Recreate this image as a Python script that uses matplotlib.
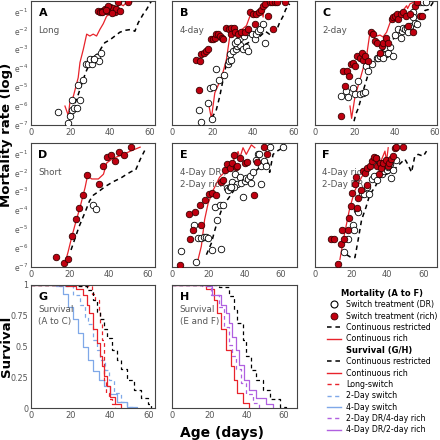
import numpy as np
import matplotlib
matplotlib.use("Agg")
import matplotlib.pyplot as plt
from matplotlib.lines import Line2D

# ---- mortality panels: age (days) and ln(mortality rate) ----
A_DR_AGE = [13.8, 18.9, 19.7, 20.9, 21.8, 23.1, 20.9, 24.8, 24.0, 26.5, 27.9, 29.0, 31.0, 29.8, 32.0, 33.2, 34.4, 35.4, 32.0]
A_DR_LOG = [-6.3, -6.9, -6.5, -6.2, -6.1, -6.1, -5.7, -5.7, -4.9, -4.6, -3.8, -3.8, -3.8, -3.5, -3.5, -3.4, -3.6, -3.2, -3.5]
A_RICH_AGE = [34.1, 34.9, 35.8, 36.6, 37.4, 38.3, 39.1, 40.0, 40.8, 41.7, 42.5, 43.3, 44.2, 45.0, 49.2, 39.1, 36.0, 38.0, 41.0]
A_RICH_LOG = [-1.0, -1.05, -0.96, -1.0, -0.88, -1.0, -0.88, -0.79, -0.96, -0.84, -1.05, -0.88, -0.52, -0.96, -0.52, -0.7, -1.05, -0.95, -1.1]
A_CR_AGE = [20.6, 21.8, 23.9, 26.1, 27.8, 29.5, 31.5, 34.1, 35.8, 37.4, 40.0, 42.5, 45.0, 47.6, 50.9, 52.6, 54.3, 56.8, 58.5, 61.0]
A_CR_LOG = [-6.25, -6.0, -5.4, -4.7, -4.2, -3.8, -3.45, -3.2, -2.9, -2.65, -2.5, -2.3, -2.1, -2.0, -1.95, -2.05, -1.6, -1.15, -0.9, -0.45]
A_CRICH_AGE = [17.2, 18.9, 19.7, 21.4, 23.9, 24.8, 26.5, 28.2, 29.8, 31.5, 33.2, 34.9, 36.6, 38.3, 40.0, 42.5, 45.0, 46.7, 48.4, 51.0]
A_CRICH_LOG = [-6.0, -6.5, -5.8, -5.5, -4.5, -3.7, -3.0, -2.2, -2.3, -2.2, -2.3, -1.95, -1.65, -1.25, -1.15, -0.95, -0.6, -0.7, -0.52, -0.52]

B_DR_AGE = [13.2, 14.2, 17.8, 19.9, 18.6, 20.2, 21.9, 23.2, 25.8, 27.6, 28.1, 29.3, 28.5, 30.1, 31.4, 32.1, 33.4, 35.0, 36.4, 37.5,
            30.9, 33.4, 35.4, 37.0, 39.2, 40.8, 41.6, 42.5, 43.3, 44.6, 45.8, 31.8]
B_DR_LOG = [-6.2, -6.85, -5.85, -6.7, -5.05, -5.0, -4.05, -4.6, -4.35, -3.8, -3.6, -3.55, -3.25, -3.1, -3.0, -2.85, -2.75, -3.0, -2.9, -3.1,
            -2.65, -2.4, -2.3, -2.1, -2.2, -2.45, -2.2, -2.05, -1.95, -1.65, -2.65, -2.55]
B_RICH_AGE = [12.0, 13.7, 13.2, 14.5, 15.6, 17.0, 17.8, 19.1, 20.2, 21.1, 21.9, 22.7, 23.5, 24.4, 25.2, 26.8, 28.1, 29.3, 30.6, 29.3,
              30.9, 32.6, 34.2, 35.8, 37.6, 38.4, 40.0, 40.8, 41.6, 42.9, 44.1, 44.9, 45.8, 47.4, 48.2, 49.5, 49.9, 50.7, 51.5, 55.6]
B_RICH_LOG = [-3.55, -3.6, -5.15, -3.25, -3.2, -3.1, -3.0, -2.45, -2.45, -2.4, -2.2, -2.2, -2.3, -2.4, -2.45, -1.85, -1.95, -1.85, -1.85, -2.2,
              -2.1, -2.2, -2.1, -2.1, -1.95, -1.05, -1.15, -1.65, -1.15, -1.05, -0.95, -0.7, -0.6, -1.25, -0.52, -0.52, -1.95, -0.52, -0.52, -0.52]
B_CR_AGE = [19.5, 21.6, 23.5, 25.0, 26.9, 29.0, 31.0, 33.4, 36.0, 38.5, 40.9, 43.5, 46.0, 48.0, 50.0, 51.5, 53.0, 55.0, 56.0, 58.0]
B_CR_LOG = [-6.6, -6.3, -5.5, -4.7, -3.7, -3.4, -3.1, -2.85, -2.75, -2.6, -2.5, -2.3, -2.05, -2.2, -1.95, -2.0, -1.6, -1.2, -0.9, -0.6]
B_CRICH_AGE = [17.8, 19.4, 21.1, 24.4, 26.8, 28.5, 30.0, 31.8, 34.0, 36.7, 38.4, 40.8, 44.1, 44.9, 45.5, 47.0, 50.0]
B_CRICH_LOG = [-5.75, -6.65, -5.3, -4.5, -3.55, -2.3, -2.25, -2.2, -2.0, -1.75, -1.25, -1.05, -0.9, -1.3, -0.75, -0.6, -0.45]

C_DR_AGE = [13.0, 15.5, 16.7, 18.8, 20.0, 21.3, 22.5, 23.8, 25.0, 25.5, 26.7, 28.3, 30.8, 31.7, 32.5, 34.2, 35.5, 36.7, 34.2, 39.2,
            37.5, 40.0, 41.7, 43.3, 44.2, 45.0, 45.8, 46.7, 47.5, 43.0, 49.2, 50.0, 50.8, 52.5, 54.2, 55.3, 49.2]
C_DR_LOG = [-5.45, -5.2, -5.5, -5.05, -5.35, -4.65, -5.35, -5.3, -5.25, -3.9, -4.15, -3.8, -3.45, -3.45, -3.35, -3.25, -3.25, -3.2, -3.45, -3.35,
            -2.9, -2.25, -1.95, -2.05, -1.85, -1.95, -1.85, -2.1, -1.75, -2.4, -1.05, -1.6, -1.65, -0.52, -0.52, -0.52, -1.3]
C_RICH_AGE = [13.0, 13.8, 15.0, 15.8, 17.0, 18.0, 18.8, 20.0, 21.2, 22.5, 23.3, 24.2, 25.0, 26.7, 28.0, 29.2, 30.0, 30.8, 32.5, 33.3,
              34.2, 35.5, 36.7, 38.3, 39.2, 40.0, 40.8, 41.7, 42.8, 44.2, 45.5, 46.7, 47.5, 49.2, 50.0, 50.8, 52.5, 53.3]
C_RICH_LOG = [-6.55, -4.15, -4.95, -4.15, -4.4, -3.8, -3.7, -3.9, -3.35, -3.45, -3.2, -3.55, -3.35, -3.6, -2.1, -2.2, -2.55, -2.65, -3.2, -2.85,
              -2.65, -2.4, -2.65, -1.4, -1.3, -1.25, -1.15, -1.4, -1.15, -1.05, -1.25, -1.75, -1.15, -2.1, -0.7, -0.52, -1.25, -1.25]
C_CR_AGE = [19.5, 20.5, 21.7, 23.8, 25.5, 27.5, 30.0, 32.5, 35.8, 39.2, 42.5, 45.8, 47.5, 50.0, 52.5, 55.0, 56.7, 59.2]
C_CR_LOG = [-6.8, -6.4, -6.1, -5.3, -4.7, -4.0, -3.55, -3.2, -2.85, -2.45, -2.1, -1.95, -2.2, -1.75, -1.4, -0.95, -0.9, -0.5]
C_CRICH_AGE = [17.5, 18.3, 20.0, 22.5, 25.8, 27.5, 28.5, 30.0, 31.0, 32.5, 34.0, 35.8, 37.5, 40.0, 43.3, 45.8, 46.3, 47.5, 50.8]
C_CRICH_LOG = [-6.0, -6.65, -5.5, -4.6, -3.35, -2.1, -2.2, -2.1, -2.3, -2.25, -2.35, -2.1, -1.6, -1.25, -1.05, -0.7, -0.85, -0.6, -0.45]

D_DR_AGE = [31.5, 33.2]
D_DR_LOG = [-3.7, -3.95]
D_RICH_AGE = [12.8, 16.9, 18.8, 20.9, 23.1, 24.8, 26.8, 28.9, 35.0, 37.1, 39.1, 41.2, 43.1, 45.1, 47.4, 51.3]
D_RICH_LOG = [-6.45, -6.8, -6.6, -5.35, -4.45, -3.9, -3.2, -2.15, -2.6, -1.65, -1.2, -1.1, -1.4, -0.95, -1.1, -0.67]
D_CR_AGE = [20.5, 22.5, 24.5, 26.5, 28.1, 30.0, 32.0, 34.8, 38.0, 42.0, 46.0, 49.0, 51.5, 53.5, 56.0, 58.2]
D_CR_LOG = [-6.1, -5.5, -4.9, -4.4, -4.0, -3.5, -3.2, -3.0, -2.75, -2.5, -2.3, -2.1, -1.95, -1.9, -1.3, -0.85]
D_CRICH_AGE = [17.4, 19.0, 20.9, 23.0, 25.1, 27.7, 28.9, 31.1, 34.5, 37.1, 38.8, 42.2, 47.4, 51.5, 55.9]
D_CRICH_LOG = [-6.8, -6.2, -5.4, -4.6, -3.85, -2.8, -2.2, -2.35, -2.35, -2.1, -1.5, -1.25, -1.05, -0.85, -0.67]

E_DR_AGE = [5.2, 13.1, 12.0, 14.4, 16.2, 17.5, 19.0, 19.9, 22.1, 26.9, 25.0, 23.6, 26.3, 28.2, 30.4, 31.0, 31.9, 33.3, 34.6, 35.9,
            37.4, 38.3, 39.2, 40.1, 40.7, 42.0, 42.9, 43.8, 44.8, 46.6, 47.5, 49.4, 49.0, 50.6, 51.7, 48.1, 54.0, 61.3, 34.3, 32.8]
E_DR_LOG = [-6.15, -6.75, -4.8, -5.45, -5.45, -5.4, -5.4, -5.45, -6.1, -6.05, -4.5, -3.85, -3.75, -3.75, -2.85, -2.95, -2.75, -2.5, -2.1, -2.6,
            -2.25, -2.55, -3.3, -2.45, -2.3, -2.35, -2.2, -2.55, -2.0, -1.35, -1.05, -2.6, -1.65, -1.4, -1.65, -1.05, -0.67, -0.67, -2.75, -2.8]
E_RICH_AGE = [4.2, 9.4, 10.2, 11.6, 12.5, 15.3, 16.2, 18.0, 20.6, 22.3, 24.5, 26.9, 28.2, 29.1, 30.4, 31.9, 33.3, 34.3, 35.2, 35.9,
              37.4, 40.3, 41.6, 45.1, 47.0, 50.8, 52.7]
E_RICH_LOG = [-6.9, -4.2, -5.5, -5.05, -4.1, -3.7, -4.8, -3.45, -3.15, -3.1, -3.2, -2.5, -2.4, -1.9, -1.55, -1.75, -1.5, -1.1, -1.7, -1.65,
              -1.25, -1.5, -1.45, -3.2, -1.45, -0.67, -1.05]
E_CR_AGE = [19.0, 21.7, 23.5, 25.4, 27.3, 29.1, 32.8, 36.5, 42.0, 48.4, 51.0, 53.0, 53.9, 55.8, 58.5, 61.3]
E_CR_LOG = [-6.35, -5.75, -5.1, -4.5, -4.0, -3.65, -3.15, -2.6, -2.25, -1.75, -1.6, -1.4, -2.0, -1.05, -0.85, -0.7]
E_CRICH_AGE = [14.4, 16.2, 18.0, 19.9, 22.7, 26.3, 30.0, 33.7, 36.5, 37.4, 39.2, 41.0, 43.8, 45.7]
E_CRICH_LOG = [-6.6, -5.9, -4.5, -3.65, -2.95, -2.25, -1.9, -1.4, -0.9, -1.25, -0.7, -1.05, -0.55, -0.7]

F_DR_AGE = [16.0, 18.4, 20.8, 21.5, 23.4, 23.8, 25.8, 27.3, 28.9, 30.0, 31.3, 32.6, 34.1, 35.5, 36.8, 38.1, 39.6, 40.5, 41.8, 41.4,
            42.9, 44.8, 33.7]
F_DR_LOG = [-6.2, -5.5, -4.8, -5.05, -4.0, -4.1, -3.15, -3.15, -2.8, -3.15, -2.35, -2.2, -2.4, -1.5, -2.1, -1.95, -1.85, -1.7, -2.3, -1.55,
            -1.9, -1.35, -1.25]
F_RICH_AGE = [8.7, 10.5, 12.9, 14.2, 14.7, 16.2, 18.0, 18.8, 19.7, 20.6, 21.9, 22.5, 23.0, 23.8, 25.6, 26.7, 27.6, 28.9, 28.9, 30.4,
              31.3, 32.6, 33.5, 34.4, 35.5, 35.9, 36.6, 37.8, 39.2, 40.5, 41.1, 42.0, 43.3, 44.2, 44.8, 48.8]
F_RICH_LOG = [-5.5, -5.5, -6.85, -5.8, -5.05, -5.5, -5.05, -4.4, -3.8, -3.1, -2.6, -2.25, -3.9, -3.35, -2.95, -1.95, -2.05, -2.65, -1.75, -1.65,
              -1.4, -1.2, -1.25, -1.65, -2.1, -1.5, -1.75, -1.5, -1.35, -1.65, -1.5, -1.3, -1.15, -0.7, -0.67, -0.67]
F_CR_AGE = [17.5, 20.0, 22.1, 23.9, 25.8, 28.2, 30.4, 33.1, 35.9, 39.6, 43.3, 47.0, 49.7, 51.5, 53.4, 55.2, 57.1, 59.9, 61.7]
F_CR_LOG = [-6.35, -6.5, -6.5, -5.55, -4.5, -3.85, -3.15, -2.8, -2.25, -2.1, -1.9, -1.55, -1.3, -1.6, -2.0, -1.15, -1.05, -1.15, -0.88]
F_CRICH_AGE = [13.8, 15.7, 17.5, 19.3, 22.1, 25.8, 29.5, 33.1, 35.9, 38.7, 39.6, 40.5]
F_CRICH_LOG = [-6.6, -5.55, -4.7, -3.85, -2.95, -2.25, -1.75, -1.3, -1.55, -0.88, -1.4, -0.7]

# ---- survival panels: age (days) and proportion alive ----
G_CR_AGE = [0, 23.0, 28.3, 31.7, 33.4, 35.2, 36.9, 38.6, 41.2, 43.7, 45.5, 48.9, 52.3, 55.7, 59.2, 61.0]
G_CR_SURV = [1.0, 0.99, 0.96, 0.88, 0.78, 0.72, 0.64, 0.57, 0.47, 0.39, 0.32, 0.23, 0.15, 0.08, 0.03, 0.0]
G_RICH_AGE = [0, 18.0, 23.0, 26.6, 28.3, 29.7, 31.7, 33.4, 35.2, 36.0, 37.2, 38.6, 40.3, 42.9, 45.5]
G_RICH_SURV = [1.0, 0.99, 0.97, 0.92, 0.84, 0.77, 0.64, 0.53, 0.42, 0.34, 0.26, 0.18, 0.09, 0.03, 0.0]
G_LONG_AGE = [0, 24.9, 30.9, 32.6, 34.3, 35.2, 36.0, 36.9, 37.2, 38.3, 39.5, 41.2, 42.9]
G_LONG_SURV = [1.0, 0.99, 0.93, 0.88, 0.8, 0.69, 0.55, 0.36, 0.23, 0.12, 0.07, 0.03, 0.0]
G_2DAY_AGE = [0, 14.6, 21.4, 24.9, 27.4, 29.2, 31.7, 33.4, 35.2, 37.7, 39.5, 42.0, 45.5, 48.9, 52.3]
G_2DAY_SURV = [1.0, 0.99, 0.92, 0.84, 0.74, 0.68, 0.55, 0.47, 0.39, 0.31, 0.23, 0.12, 0.05, 0.01, 0.0]
G_4DAY_AGE = [0, 12.9, 16.3, 18.9, 21.4, 24.0, 26.6, 29.2, 31.7, 34.3, 36.9, 40.3, 43.7, 48.9, 54.0]
G_4DAY_SURV = [1.0, 0.99, 0.93, 0.82, 0.72, 0.61, 0.5, 0.39, 0.3, 0.23, 0.18, 0.11, 0.05, 0.01, 0.0]

H_CR_AGE = [0, 18.0, 25.2, 30.6, 33.3, 35.1, 37.8, 39.6, 42.3, 45.0, 48.6, 52.3, 57.7, 61.3]
H_CR_SURV = [1.0, 1.0, 0.98, 0.91, 0.8, 0.69, 0.55, 0.42, 0.31, 0.23, 0.15, 0.07, 0.01, 0.0]
H_RICH_AGE = [0, 9.0, 18.0, 22.5, 24.3, 26.1, 28.8, 31.5, 33.3, 35.1, 37.8, 41.4]
H_RICH_SURV = [1.0, 1.0, 0.97, 0.88, 0.77, 0.64, 0.47, 0.34, 0.23, 0.12, 0.04, 0.0]
H_2DR4R_AGE = [0, 16.0, 20.7, 25.2, 27.9, 30.6, 32.4, 34.2, 36.9, 39.6, 43.2, 46.8]
H_2DR4R_SURV = [1.0, 0.99, 0.92, 0.82, 0.66, 0.51, 0.42, 0.32, 0.2, 0.11, 0.04, 0.0]
H_4DR2R_AGE = [0, 18.0, 21.6, 26.1, 28.8, 30.6, 32.4, 34.2, 36.0, 38.7, 41.4, 45.0, 50.5, 54.0]
H_4DR2R_SURV = [1.0, 0.99, 0.92, 0.84, 0.77, 0.69, 0.58, 0.47, 0.35, 0.23, 0.15, 0.08, 0.03, 0.0]

RED = "#e8232b"
DOT_RED = "#c00010"
BLUE = "#7fa8e8"
PURPLE = "#b060e0"
GREY = "#555555"
DASH = (0, (3, 2.5))

W = H = 440.0


def px_axes(fig, x0, y0, x1, y1):
    return fig.add_axes([x0 / W, 1 - y1 / H, (x1 - x0) / W, (y1 - y0) / H])


def style(ax, xmax):
    ax.set_xlim(0, xmax)
    ax.set_xticks([0, 20, 40, 60])
    ax.tick_params(length=0, pad=2, labelsize=6, colors=GREY)
    for s in ax.spines.values():
        s.set_color("#444444")
        s.set_linewidth(0.8)


def mortality(ax, xmax, letter, sub, dr, rich, cr, crich, ylabels):
    ax.set_yscale("log", base=np.e)
    ax.plot(cr[0], np.exp(cr[1]), color="black", lw=1.1, ls=DASH, zorder=2)
    ax.plot(crich[0], np.exp(crich[1]), color=RED, lw=0.9, zorder=2)
    ax.scatter(dr[0], np.exp(dr[1]), s=22, facecolor="white", edgecolor="black", lw=0.6, zorder=3)
    ax.scatter(rich[0], np.exp(rich[1]), s=22, facecolor=DOT_RED, edgecolor="#3a0000", lw=0.6, zorder=4)
    ax.set_ylim(np.exp(-7), np.exp(-0.45))
    style(ax, xmax)
    ax.set_yticks(np.exp(np.arange(-7, 0)))
    ax.minorticks_off()
    if ylabels:
        ax.set_yticklabels([r"e$^{%d}$" % k for k in range(-7, 0)], fontsize=5.5)
    else:
        ax.set_yticklabels([])
    ax.text(0.06, 0.9, letter, transform=ax.transAxes, fontsize=8, fontweight="bold", va="center")
    ax.text(0.06, 0.8, sub, transform=ax.transAxes, fontsize=6.3, color=GREY, va="top", linespacing=1.5)


def survival(ax, xmax, letter, sub, curves, ylabels):
    for age, surv, color, ls in curves:
        ax.plot(age, surv, color=color, lw=0.9, ls=ls, drawstyle="steps-post")
    ax.set_ylim(0, 1)
    style(ax, xmax)
    ax.set_yticks([0, 0.25, 0.5, 0.75, 1])
    if ylabels:
        ax.set_yticklabels(["0", "0.25", "0.5", "0.75", "1"], fontsize=5.8)
    else:
        ax.set_yticklabels([])
    ax.text(0.06, 0.9, letter, transform=ax.transAxes, fontsize=8, fontweight="bold", va="center")
    ax.text(0.06, 0.84, sub, transform=ax.transAxes, fontsize=6.3, color=GREY, va="top", linespacing=1.5)


def main():
    fig = plt.figure(figsize=(4.4, 4.4), dpi=100)
    cols = [(31, 155), (172, 297), (315, 437)]
    rows = [(1, 125), (143, 267), (285, 408)]

    panels = [
        ("A", "Long", A_DR_AGE, A_DR_LOG, A_RICH_AGE, A_RICH_LOG, A_CR_AGE, A_CR_LOG, A_CRICH_AGE, A_CRICH_LOG, 62.8),
        ("B", "4-day", B_DR_AGE, B_DR_LOG, B_RICH_AGE, B_RICH_LOG, B_CR_AGE, B_CR_LOG, B_CRICH_AGE, B_CRICH_LOG, 61.6),
        ("C", "2-day", C_DR_AGE, C_DR_LOG, C_RICH_AGE, C_RICH_LOG, C_CR_AGE, C_CR_LOG, C_CRICH_AGE, C_CRICH_LOG, 61.0),
        ("D", "Short", D_DR_AGE, D_DR_LOG, D_RICH_AGE, D_RICH_LOG, D_CR_AGE, D_CR_LOG, D_CRICH_AGE, D_CRICH_LOG, 63.5),
        ("E", "4-Day DR /\n2-Day rich", E_DR_AGE, E_DR_LOG, E_RICH_AGE, E_RICH_LOG, E_CR_AGE, E_CR_LOG, E_CRICH_AGE, E_CRICH_LOG, 69.0),
        ("F", "4-Day rich/\n2-Day DR", F_DR_AGE, F_DR_LOG, F_RICH_AGE, F_RICH_LOG, F_CR_AGE, F_CR_LOG, F_CRICH_AGE, F_CRICH_LOG, 67.5),
    ]
    for i, p in enumerate(panels):
        r, c = divmod(i, 3)
        ax = px_axes(fig, cols[c][0], rows[r][0], cols[c][1], rows[r][1])
        letter, sub, dx, dy, rx, ry, cx, cy, qx, qy, xmax = p
        mortality(ax, xmax, letter, sub, (dx, dy), (rx, ry), (cx, cy), (qx, qy), c == 0)

    axg = px_axes(fig, cols[0][0], rows[2][0], cols[0][1], rows[2][1])
    survival(axg, 63.0, "G", "Survival\n(A to C)", [
        (G_4DAY_AGE, G_4DAY_SURV, BLUE, "-"),
        (G_2DAY_AGE, G_2DAY_SURV, BLUE, DASH),
        (G_RICH_AGE, G_RICH_SURV, RED, "-"),
        (G_LONG_AGE, G_LONG_SURV, RED, DASH),
        (G_CR_AGE, G_CR_SURV, "black", DASH),
    ], True)

    axh = px_axes(fig, cols[1][0], rows[2][0], cols[1][1], rows[2][1])
    survival(axh, 67.0, "H", "Survival\n(E and F)", [
        (H_RICH_AGE, H_RICH_SURV, RED, "-"),
        (H_4DR2R_AGE, H_4DR2R_SURV, PURPLE, "-"),
        (H_2DR4R_AGE, H_2DR4R_SURV, PURPLE, DASH),
        (H_CR_AGE, H_CR_SURV, "black", DASH),
    ], False)

    fig.text(6.5 / W, 1 - 135 / H, "Mortality rate (log)", rotation=90, fontsize=9.5,
             fontweight="bold", ha="center", va="center")
    fig.text(6.5 / W, 1 - 346 / H, "Survival", rotation=90, fontsize=9.5,
             fontweight="bold", ha="center", va="center")
    fig.text(222 / W, 1 - 433 / H, "Age (days)", fontsize=10, fontweight="bold",
             ha="center", va="center")

    # legends
    h1 = [
        Line2D([], [], ls="none", marker="o", ms=5, mfc="white", mec="black", mew=0.8),
        Line2D([], [], ls="none", marker="o", ms=5, mfc=DOT_RED, mec="#3a0000", mew=0.6),
        Line2D([], [], color="black", lw=1.1, ls=DASH),
        Line2D([], [], color=RED, lw=1.0),
    ]
    l1 = ["Switch treatment (DR)", "Switch treatment (rich)", "Continuous restricted", "Continuous rich"]
    leg1 = fig.legend(h1, l1, loc="upper left", bbox_to_anchor=(326 / W, 1 - 288 / H), frameon=False,
                      fontsize=5.7, title="Mortality (A to F)", handlelength=1.8, handletextpad=0.6,
                      labelspacing=0.3, borderpad=0.1, borderaxespad=0)
    leg1.get_title().set_fontweight("bold")
    leg1.get_title().set_fontsize(6)

    h2 = [
        Line2D([], [], color="black", lw=1.1, ls=DASH),
        Line2D([], [], color=RED, lw=1.0),
        Line2D([], [], color=RED, lw=1.0, ls=DASH),
        Line2D([], [], color=BLUE, lw=1.0, ls=DASH),
        Line2D([], [], color=BLUE, lw=1.0),
        Line2D([], [], color=PURPLE, lw=1.0, ls=DASH),
        Line2D([], [], color=PURPLE, lw=1.0),
    ]
    l2 = ["Continuous restricted", "Continuous rich", "Long-switch", "2-Day switch", "4-Day switch",
          "2-Day DR/4-day rich", "4-Day DR/2-day rich"]
    leg2 = fig.legend(h2, l2, loc="upper left", bbox_to_anchor=(326 / W, 1 - 345 / H), frameon=False,
                      fontsize=5.7, title="Survival (G/H)", handlelength=1.8, handletextpad=0.6,
                      labelspacing=0.3, borderpad=0.1, borderaxespad=0)
    leg2.get_title().set_fontweight("bold")
    leg2.get_title().set_fontsize(6)

    fig.savefig("out.png", dpi=100)


if __name__ == "__main__":
    main()
